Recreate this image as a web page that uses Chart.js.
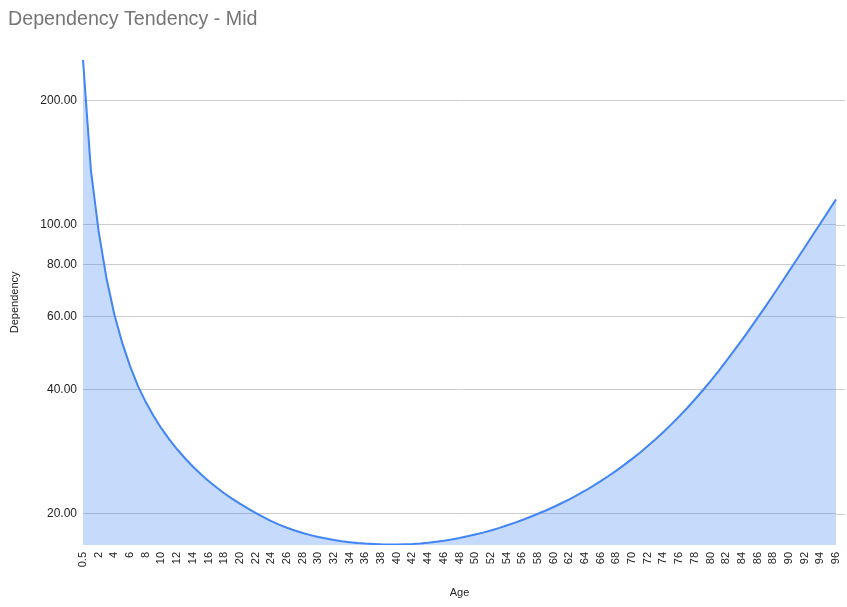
<!DOCTYPE html>
<html>
<head>
<meta charset="utf-8">
<script src="https://cdn.jsdelivr.net/npm/chart.js@4"></script>
<style>
  html, body { margin: 0; padding: 0; background: #ffffff; }
  #wrap { width: 847px; height: 607px; }
</style>
</head>
<body>
<div id="wrap"><canvas id="c" width="847" height="607"></canvas></div>
<script>
const ages = [0.5,1,2,3,4,5,6,7,8,9,10,11,12,13,14,15,16,17,18,19,20,21,22,23,24,25,26,27,28,29,30,31,32,33,34,35,36,37,38,39,40,41,42,43,44,45,46,47,48,49,50,51,52,53,54,55,56,57,58,59,60,61,62,63,64,65,66,67,68,69,70,71,72,73,74,75,76,77,78,79,80,81,82,83,84,85,86,87,88,89,90,91,92,93,94,95,96];
const dependency = [
  251, 136, 96.32, 74.12, 60.68, 51.81, 45.50, 40.76, 37.25, 34.46, 32.16,
  30.26, 28.64, 27.24, 26.02, 24.95, 24.01, 23.17, 22.42, 21.75, 21.15,
  20.61, 20.10, 19.62, 19.19, 18.82, 18.49, 18.21, 17.96, 17.75, 17.56,
  17.41, 17.27, 17.16, 17.07, 16.99, 16.93, 16.89, 16.86, 16.85, 16.85,
  16.87, 16.90, 16.95, 17.02, 17.11, 17.21, 17.33, 17.47, 17.63, 17.81,
  18.00, 18.22, 18.46, 18.72, 19.00, 19.31, 19.64, 19.99, 20.36, 20.76,
  21.20, 21.67, 22.18, 22.73, 23.33, 23.97, 24.67, 25.43, 26.25, 27.14,
  28.10, 29.15, 30.29, 31.54, 32.90, 34.38, 36.00, 37.78, 39.73, 41.87,
  44.20, 46.78, 49.59, 52.63, 55.94, 59.53, 63.40, 67.63, 72.20, 77.15,
  82.46, 88.16, 94.26, 100.78, 107.75, 115.21
];
const yTicks = [20, 40, 60, 80, 100, 200];
const yMin = 16.8;
const yMax = 251;

const FONT = "'Liberation Sans', Arial, sans-serif";

// extend horizontal gridlines a little past the plot's right edge, as in the reference
const gridExtend = {
  id: 'gridExtend',
  beforeDatasetsDraw(chart) {
    const y = chart.scales.y, ctx = chart.ctx, r = chart.chartArea.right;
    ctx.save();
    ctx.strokeStyle = '#cccccc';
    ctx.lineWidth = 1;
    y.ticks.forEach(t => {
      const py = Math.round(y.getPixelForValue(t.value)) + 0.5;
      ctx.beginPath();
      ctx.moveTo(r, py);
      ctx.lineTo(r + 9, py);
      ctx.stroke();
    });
    ctx.restore();
  }
};

new Chart(document.getElementById('c'), {
  type: 'line',
  data: {
    labels: ages.map(String),
    datasets: [{
      label: 'Dependency',
      data: dependency,
      borderColor: '#4285f4',
      backgroundColor: 'rgba(66,133,244,0.3)',
      borderWidth: 2,
      fill: 'start',
      pointRadius: 0,
      tension: 0
    }]
  },
  plugins: [gridExtend],
  options: {
    responsive: false,
    animation: false,
    layout: { padding: { left: 8, right: 11, top: 0, bottom: 3 } },
    plugins: {
      legend: { display: false },
      tooltip: { enabled: false },
      title: {
        display: true,
        text: 'Dependency Tendency - Mid',
        align: 'start',
        color: '#757575',
        font: { family: FONT, size: 19.7, weight: 'normal' },
        padding: { top: 8, bottom: 28 }
      }
    },
    scales: {
      x: {
        type: 'category',
        offset: false,
        grid: { display: false, drawTicks: false },
        border: { display: false },
        ticks: {
          autoSkip: false,
          minRotation: 90,
          maxRotation: 90,
          padding: 7,
          color: '#222222',
          font: { family: FONT, size: 11 },
          callback: function (v, i) { return i % 2 === 0 ? this.getLabelForValue(v) : null; }
        },
        title: {
          display: true,
          text: 'Age',
          color: '#222222',
          font: { family: FONT, size: 11 },
          padding: { top: 4, bottom: 4 }
        },
        afterFit: function (s) { s.height = 59; s.paddingLeft = 0; s.paddingRight = 0; }
      },
      y: {
        type: 'logarithmic',
        min: yMin,
        max: yMax,
        grid: { color: '#cccccc', drawTicks: false },
        border: { display: false },
        afterBuildTicks: function (s) { s.ticks = yTicks.map(v => ({ value: v })); },
        ticks: {
          padding: 6,
          color: '#222222',
          font: { family: FONT, size: 12 },
          callback: function (v) { return Number(v).toFixed(2); }
        },
        title: {
          display: true,
          text: 'Dependency',
          color: '#222222',
          font: { family: FONT, size: 11 },
          padding: { top: 0, bottom: 4 }
        },
        afterFit: function (s) { s.width = 75; }
      }
    }
  }
});
</script>
</body>
</html>
